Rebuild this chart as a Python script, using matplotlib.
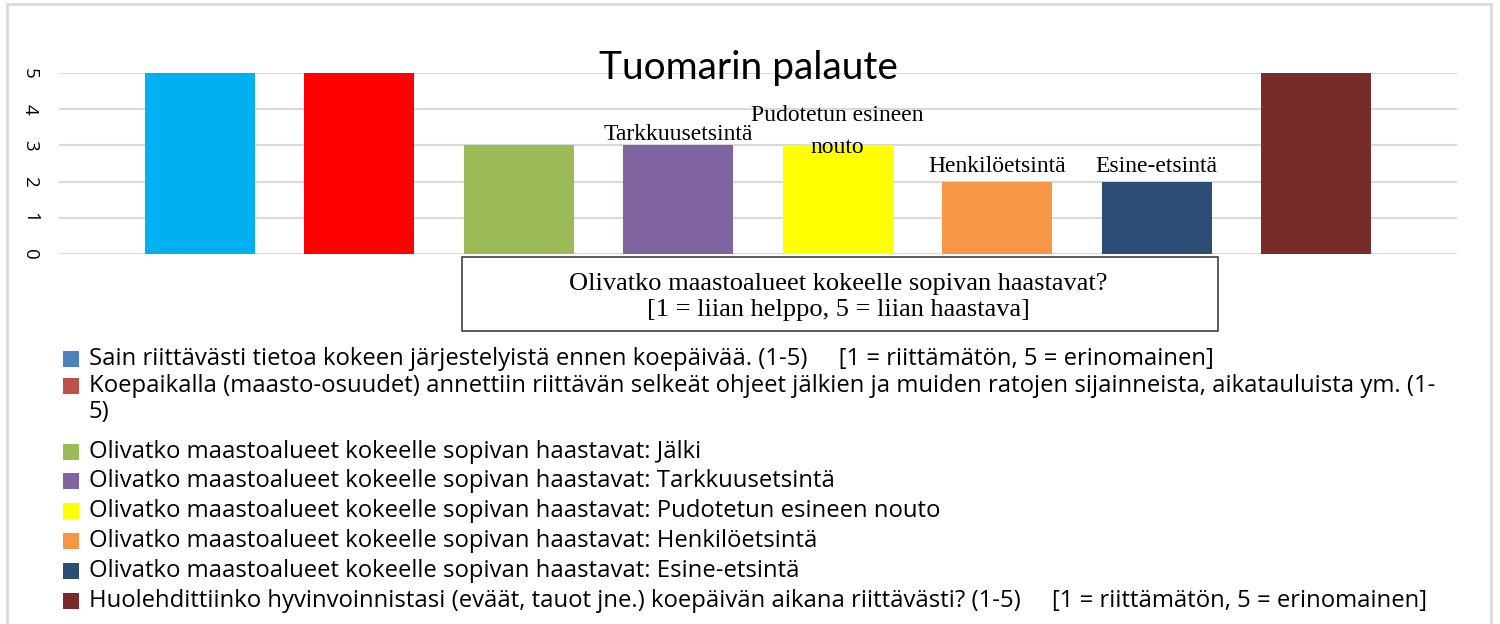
import matplotlib.pyplot as plt
from matplotlib.patches import Rectangle

# ==== data ====
categories = ['Tietoa ennen koepäivää', 'Ohjeet koepaikalla', 'Jälki', 'Tarkkuusetsintä',
              'Pudotetun esineen nouto', 'Henkilöetsintä', 'Esine-etsintä', 'Hyvinvointi']
values = [5, 5, 3, 3, 3, 2, 2, 5]
bar_colors = ['#00B0F0', '#FF0000', '#9BBB59', '#8064A2', '#FFFF00', '#F79646', '#2C4D75', '#772C2A']
legend_colors = ['#4F81BD', '#C0504D', '#9BBB59', '#8064A2', '#FFFF00', '#F79646', '#2C4D75', '#772C2A']
legend_labels = [
    'Sain riittävästi tietoa kokeen järjestelyistä ennen koepäivää. (1-5)     [1 = riittämätön, 5 = erinomainen]',
    'Koepaikalla (maasto-osuudet) annettiin riittävän selkeät ohjeet jälkien ja muiden ratojen sijainneista, aikatauluista ym. (1-\n5)',
    'Olivatko maastoalueet kokeelle sopivan haastavat: Jälki',
    'Olivatko maastoalueet kokeelle sopivan haastavat: Tarkkuusetsintä',
    'Olivatko maastoalueet kokeelle sopivan haastavat: Pudotetun esineen nouto',
    'Olivatko maastoalueet kokeelle sopivan haastavat: Henkilöetsintä',
    'Olivatko maastoalueet kokeelle sopivan haastavat: Esine-etsintä',
    'Huolehdittiinko hyvinvoinnistasi (eväät, tauot jne.) koepäivän aikana riittävästi? (1-5)     [1 = riittämätön, 5 = erinomainen]',
]
# bar annotations: (category index, text, height of text centre above bar)
bar_notes = [(3, 'Tarkkuusetsintä', 0.30), (4, 'Pudotetun esineen\nnouto', 0.38),
             (5, 'Henkilöetsintä', 0.42), (6, 'Esine-etsintä', 0.42)]
title = 'Tuomarin palaute'
box_text = 'Olivatko maastoalueet kokeelle sopivan haastavat?\n[1 = liian helppo, 5 = liian haastava]'

W, H = 1500, 624
fig = plt.figure(figsize=(W / 100, H / 100), dpi=100)

def fx(px):
    return px / W

def fy(py):
    return 1 - py / H

# outer chart border
fig.patches.append(Rectangle((fx(7), fy(640)), fx(1491 - 7), (640 - 4) / H, transform=fig.transFigure,
                             fill=False, edgecolor='#D9D9D9', lw=2))

ax = fig.add_axes([fx(59), fy(254), fx(1457 - 59), (254 - 73) / H])
x = range(len(categories))
ax.bar(x, values, width=0.69, color=bar_colors, zorder=2, clip_on=False)
ax.set_xlim(-0.885, len(categories) - 1 + 0.885)
ax.set_ylim(0, 5)
ax.set_yticks(range(6))
ax.set_yticklabels([str(i) for i in range(6)], rotation=-90, fontsize=13.5, family='Open Sans',
                   va='center', ha='center')
ax.tick_params(axis='y', length=0, pad=21)
ax.set_xticks([])
ax.grid(axis='y', color='#D9D9D9', lw=1.5, zorder=0)
for s in ax.spines.values():
    s.set_visible(False)

# title
fig.text(fx(748), fy(68), title, ha='center', va='center', fontsize=28, family='Lato')

# annotations above bars
for i, txt, dy in bar_notes:
    ax.text(i, values[i] + dy, txt, ha='center', va='center', fontsize=17,
            family='Liberation Serif', linespacing=1.7, zorder=3)

# box with question
fig.patches.append(Rectangle((fx(462), fy(331)), fx(1218 - 462), (331 - 257) / H, transform=fig.transFigure,
                             fill=False, edgecolor='#404040', lw=1.2))
fig.text(fx(838), fy(297), box_text, ha='center', va='center', fontsize=19,
         family='Liberation Serif', linespacing=1.25)

# legend
legend_y = [359, 386, 452, 481, 511, 541, 571, 601]
for lab, col, y in zip(legend_labels, legend_colors, legend_y):
    fig.patches.append(Rectangle((fx(63), fy(y + 8)), fx(16), 16 / H, transform=fig.transFigure,
                                 facecolor=col, edgecolor='none'))
    for k, line in enumerate(lab.split('\n')):
        fig.text(fx(89), fy(y + 26 * k), line, ha='left', va='center', fontsize=17.2,
                 family='Open Sans')

fig.savefig('out.png', dpi=100)
